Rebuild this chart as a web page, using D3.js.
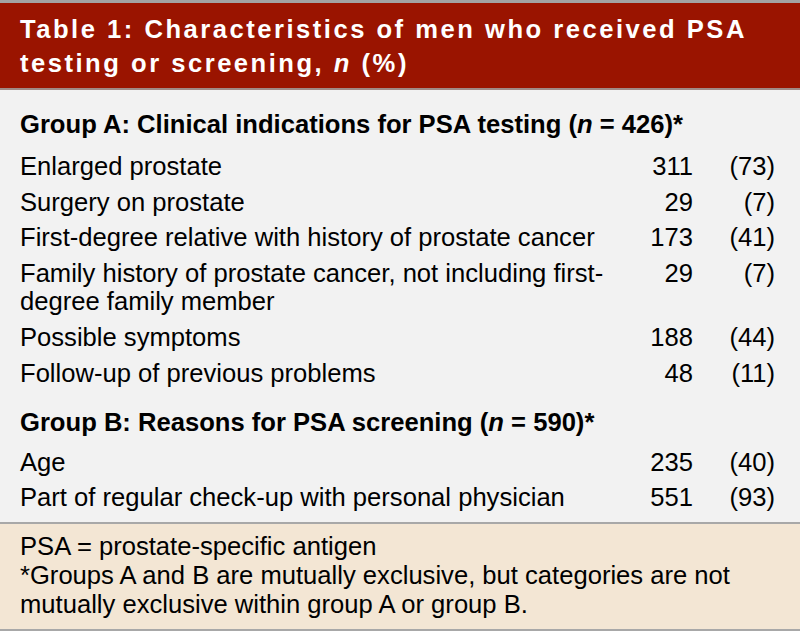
<!DOCTYPE html>
<html>
<head>
<meta charset="utf-8">
<script src="https://cdn.jsdelivr.net/npm/d3@7"></script>
<style>
  body { margin: 0; background: #fff; }
  svg text { font-family: "Liberation Sans", Arial, sans-serif; }
</style>
</head>
<body>
<div id="table"></div>
<script>
var width = 800,
    height = 631;

// table contents
var titleLines = [
    [{t: "Table 1: Characteristics of men who received PSA"}],
    [{t: "testing or screening, "}, {t: "n", i: true}, {t: " (%)"}]
];
var groupTitles = [
    [{t: "Group A: Clinical indications for PSA testing ("}, {t: "n", i: true}, {t: " = 426)*"}],
    [{t: "Group B: Reasons for PSA screening ("}, {t: "n", i: true}, {t: " = 590)*"}]
];
var groupA_labels = [
    ["Enlarged prostate"],
    ["Surgery on prostate"],
    ["First-degree relative with history of prostate cancer"],
    ["Family history of prostate cancer, not including first-", "degree family member"],
    ["Possible symptoms"],
    ["Follow-up of previous problems"]
];
var groupA_n = [311, 29, 173, 29, 188, 48];
var groupA_pct = [73, 7, 41, 7, 44, 11];
var groupB_labels = [
    ["Age"],
    ["Part of regular check-up with personal physician"]
];
var groupB_n = [235, 551];
var groupB_pct = [40, 93];
var footnotes = [
    "PSA = prostate-specific antigen",
    "*Groups A and B are mutually exclusive, but categories are not",
    "mutually exclusive within group A or group B."
];

var fs = "25.6px";

var svg = d3.select("#table").append("svg")
    .attr("width", width)
    .attr("height", height);

// backgrounds
svg.append("rect").attr("x", 0).attr("y", 0).attr("width", width).attr("height", height)
    .style("fill", "#f2f2f2");
svg.append("rect").attr("x", 0).attr("y", 0).attr("width", width).attr("height", 90)
    .style("fill", "#9a1400");
svg.append("rect").attr("x", 0).attr("y", 0).attr("width", width).attr("height", 3)
    .style("fill", "#a3a3a3");
svg.append("rect").attr("x", 0).attr("y", 88).attr("width", width).attr("height", 2)
    .style("fill", "#a08a86");
svg.append("rect").attr("x", 0).attr("y", 523).attr("width", width).attr("height", 108)
    .style("fill", "#f3e6d4");
svg.append("rect").attr("x", 0).attr("y", 522).attr("width", width).attr("height", 2)
    .style("fill", "#a8a8a8");
svg.append("rect").attr("x", 0).attr("y", 629).attr("width", width).attr("height", 2)
    .style("fill", "#a8a8a8");

function addRuns(sel, runs) {
    runs.forEach(function (r) {
        sel.append("tspan")
            .text(r.t)
            .style("font-style", r.i ? "italic" : "normal");
    });
}

// title
svg.selectAll("text.title")
    .data(titleLines)
    .enter().append("text")
    .attr("class", "title")
    .attr("x", 20)
    .attr("y", function (d, i) { return 38 + i * 34; })
    .style("fill", "#fff")
    .style("font-weight", "bold")
    .style("font-size", fs)
    .style("letter-spacing", "2.5px")
    .each(function (d) { addRuns(d3.select(this), d); });

// lay out rows
var rows = [];
var y = 133;
var groups = [
    {title: groupTitles[0], labels: groupA_labels, n: groupA_n, pct: groupA_pct},
    {title: groupTitles[1], labels: groupB_labels, n: groupB_n, pct: groupB_pct}
];
groups.forEach(function (g, gi) {
    if (gi > 0) y += 49;
    rows.push({type: "head", y: y, runs: g.title});
    y += gi === 0 ? 42 : 40;
    g.labels.forEach(function (lab, i) {
        rows.push({type: "row", y: y, lines: lab, n: g.n[i], pct: g.pct[i]});
        y += 35.5 + (lab.length - 1) * 29;
    });
    y -= 35.5;
});

var xN = d3.scaleOrdinal().domain(["label", "n", "pct"]).range([20, 693, 775]);

svg.selectAll("text.head")
    .data(rows.filter(function (d) { return d.type === "head"; }))
    .enter().append("text")
    .attr("class", "head")
    .attr("x", xN("label"))
    .attr("y", function (d) { return d.y; })
    .style("font-weight", "bold")
    .style("font-size", fs)
    .style("fill", "#000")
    .each(function (d) { addRuns(d3.select(this), d.runs); });

var body = svg.selectAll("g.row")
    .data(rows.filter(function (d) { return d.type === "row"; }))
    .enter().append("g")
    .attr("class", "row")
    .attr("transform", function (d) { return "translate(0," + d.y + ")"; })
    .style("font-size", fs)
    .style("fill", "#000");

body.selectAll("text.lab")
    .data(function (d) { return d.lines; })
    .enter().append("text")
    .attr("class", "lab")
    .attr("x", xN("label"))
    .attr("y", function (d, i) { return i * 28; })
    .text(function (d) { return d; });

body.append("text")
    .attr("x", xN("n"))
    .attr("text-anchor", "end")
    .text(function (d) { return d.n; });

body.append("text")
    .attr("x", xN("pct"))
    .attr("text-anchor", "end")
    .text(function (d) { return "(" + d.pct + ")"; });

// footnotes
svg.selectAll("text.foot")
    .data(footnotes)
    .enter().append("text")
    .attr("class", "foot")
    .attr("x", 20)
    .attr("y", function (d, i) { return 555 + i * 29; })
    .style("font-size", fs)
    .style("fill", "#000")
    .text(function (d) { return d; });
</script>
</body>
</html>
